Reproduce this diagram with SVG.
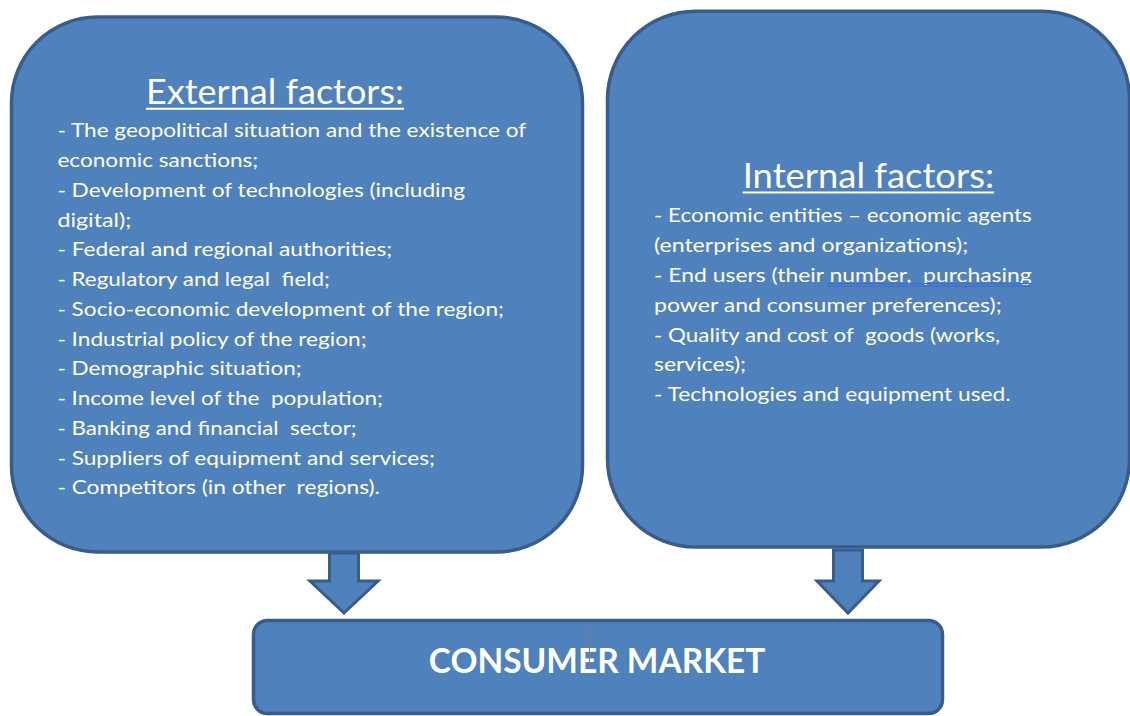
<svg xmlns="http://www.w3.org/2000/svg" width="1130" height="716" viewBox="0 0 1130 716">
<defs>
<style>
.box{fill:#4F81BD;stroke:#385D8A;stroke-width:3.5}
.arrow{fill:#4F81BD;stroke:#385D8A;stroke-width:3;stroke-linejoin:miter}
.t{font-family:Lato,"Open Sans","Liberation Sans",sans-serif;fill:#ffffff}
.body{font-size:20px}
.title{font-size:35px}
.ul{stroke:#ffffff;stroke-width:2}
.spell{stroke:#3a6fd8;stroke-width:1.2}
</style>
</defs>
<rect width="1130" height="716" fill="#ffffff"/>
<g id="connectors">
<path class="arrow" d="M329.5,553 L358.5,553 L358.5,581 L378,581 L344,613 L310,581 L329.5,581 Z"/>
<path class="arrow" d="M833.5,550 L862.5,550 L862.5,581 L879,581 L848,613 L817,581 L833.5,581 Z"/>
</g>
<g id="external">
<rect class="box" x="11.5" y="17" width="571" height="535" rx="86" ry="86"/>
<text class="t title" x="146" y="104" textLength="258" lengthAdjust="spacingAndGlyphs">External factors:</text>
<line class="ul" x1="146" y1="108.7" x2="404" y2="108.7"/>
<g class="t body">
<text x="57.4" y="137.3" textLength="468.8" lengthAdjust="spacingAndGlyphs">- The geopolitical situation and the existence of</text>
<text x="57.4" y="166.8" textLength="200.9" lengthAdjust="spacingAndGlyphs">economic sanctions;</text>
<text x="57.4" y="196.7" textLength="407.6" lengthAdjust="spacingAndGlyphs">- Development of technologies (including</text>
<text x="57.4" y="226.5" textLength="73.9" lengthAdjust="spacingAndGlyphs">digital);</text>
<text x="57.4" y="256.3" textLength="334.9" lengthAdjust="spacingAndGlyphs">- Federal and regional authorities;</text>
<text x="57.4" y="286" textLength="272.6" lengthAdjust="spacingAndGlyphs" xml:space="preserve">- Regulatory and legal  field;</text>
<text x="57.4" y="315.8" textLength="446.6" lengthAdjust="spacingAndGlyphs">- Socio-economic development of the region;</text>
<text x="57.4" y="345.5" textLength="309.3" lengthAdjust="spacingAndGlyphs">- Industrial policy of the region;</text>
<text x="57.4" y="375.3" textLength="244.3" lengthAdjust="spacingAndGlyphs">- Demographic situation;</text>
<text x="57.4" y="405" textLength="325.6" lengthAdjust="spacingAndGlyphs" xml:space="preserve">- Income level of the  population;</text>
<text x="57.4" y="434.8" textLength="299.3" lengthAdjust="spacingAndGlyphs" xml:space="preserve">- Banking and financial  sector;</text>
<text x="57.4" y="464.5" textLength="377.6" lengthAdjust="spacingAndGlyphs">- Suppliers of equipment and services;</text>
<text x="57.4" y="494.2" textLength="322.6" lengthAdjust="spacingAndGlyphs" xml:space="preserve">- Competitors (in other  regions).</text>
</g>
</g>
<g id="internal">
<rect class="box" x="607.5" y="11.2" width="522" height="535.8" rx="88" ry="88"/>
<text class="t title" x="742.7" y="188.3" textLength="251.3" lengthAdjust="spacingAndGlyphs">Internal factors:</text>
<line class="ul" x1="742.7" y1="192.6" x2="994" y2="192.6"/>
<g class="t body">
<text x="654" y="221.7" textLength="377.7" lengthAdjust="spacingAndGlyphs">- Economic entities – economic agents</text>
<text x="654" y="251.6" textLength="314.3" lengthAdjust="spacingAndGlyphs">(enterprises and organizations);</text>
<text x="654" y="281.6" textLength="377.7" lengthAdjust="spacingAndGlyphs" xml:space="preserve">- End users (their number,  purchasing</text>
<text x="654" y="311.5" textLength="347.7" lengthAdjust="spacingAndGlyphs">power and consumer preferences);</text>
<text x="654" y="341.5" textLength="346" lengthAdjust="spacingAndGlyphs" xml:space="preserve">- Quality and cost of  goods (works,</text>
<text x="654" y="371.4" textLength="92" lengthAdjust="spacingAndGlyphs">services);</text>
<text x="654" y="401.3" textLength="356.7" lengthAdjust="spacingAndGlyphs">- Technologies and equipment used.</text>
</g>
<line class="spell" x1="828" y1="283.6" x2="1032" y2="283.6"/>
<line class="spell" x1="828" y1="286.4" x2="1032" y2="286.4"/>
</g>
<g id="consumer-market">
<rect class="box" x="253.5" y="620.5" width="689" height="93" rx="14" ry="14"/>
<text class="t" x="428.8" y="672.7" font-size="34" font-weight="bold" textLength="336.6" lengthAdjust="spacingAndGlyphs">CONSUMER MARKET</text>
<line x1="589.5" y1="630" x2="589.5" y2="667" stroke="#8a7a5c" stroke-width="1"/>
</g>
</svg>
